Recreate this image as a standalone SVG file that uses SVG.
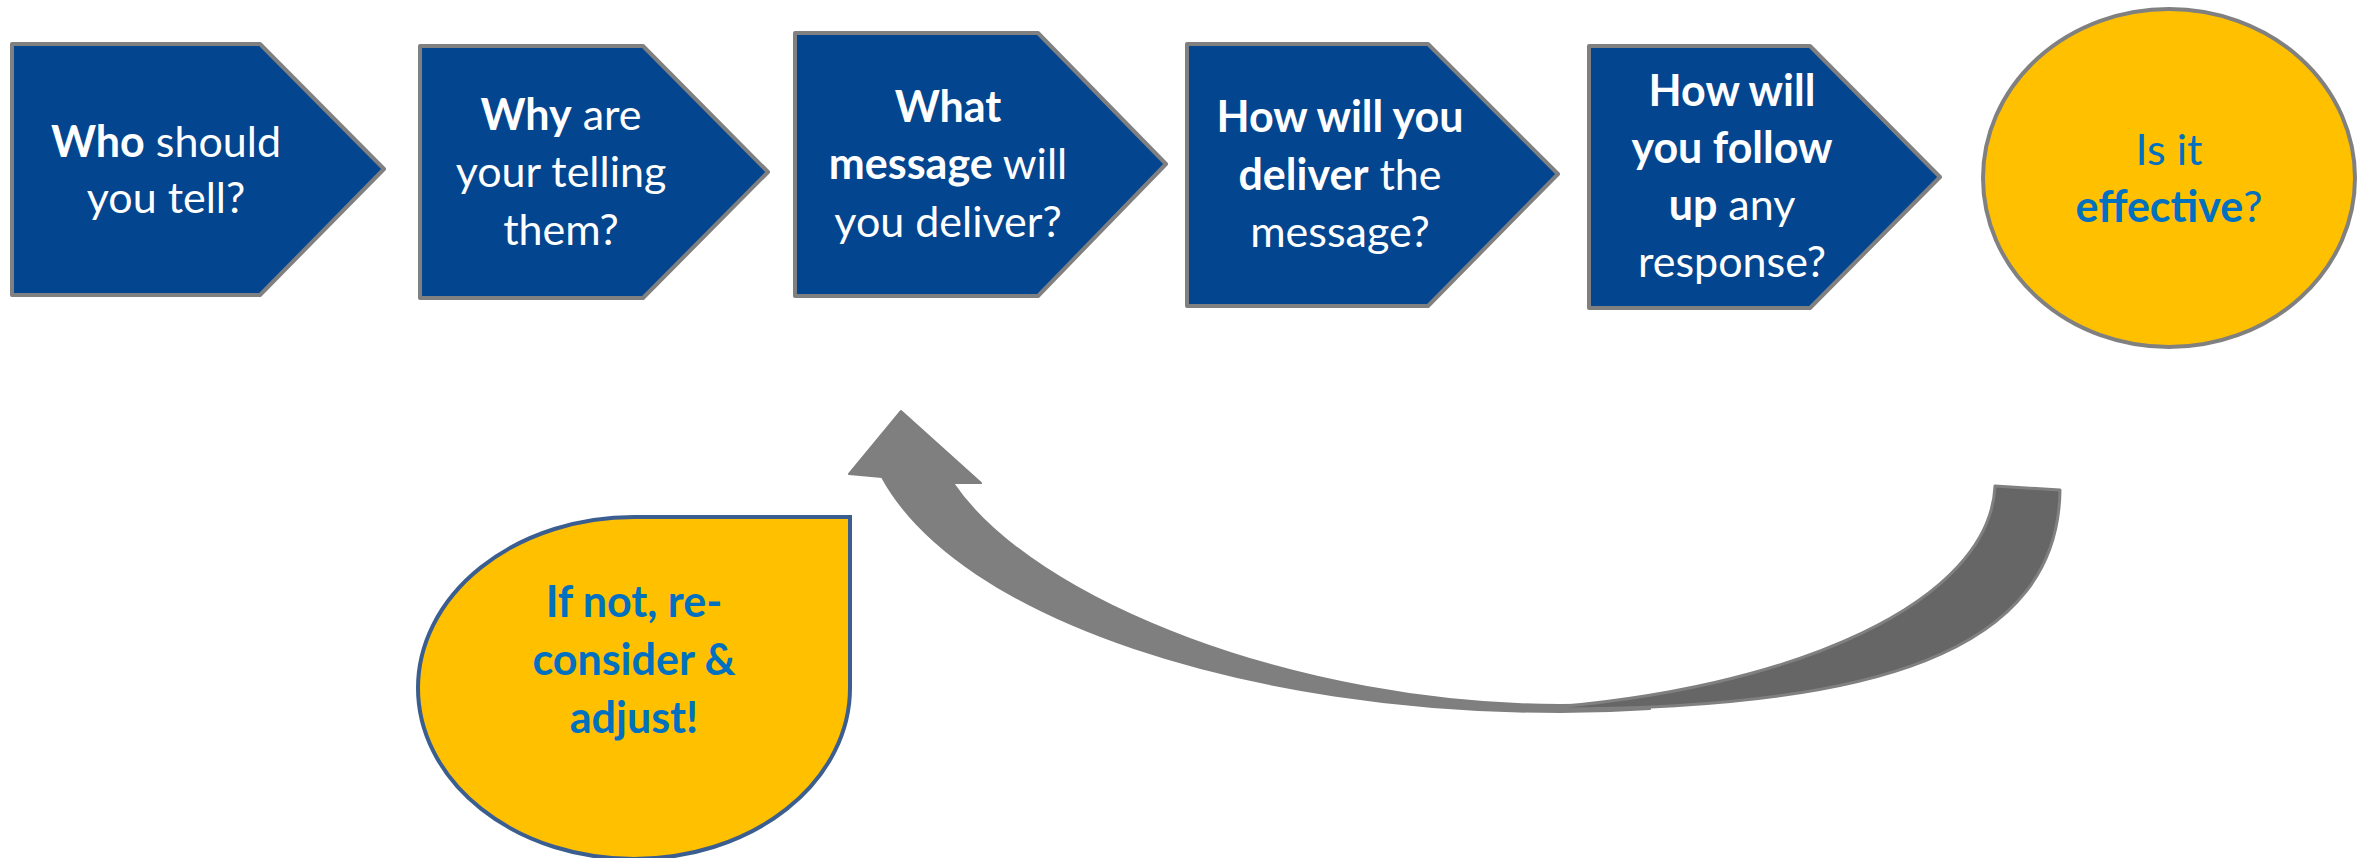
<svg xmlns="http://www.w3.org/2000/svg" width="2366" height="858" viewBox="0 0 2366 858">
<style>
.step{fill:#03458F;stroke:#808080;stroke-width:4;stroke-linejoin:round}
.lbl{font-family:Lato,"Open Sans",sans-serif;font-size:43px;fill:#FFFFFF;text-anchor:middle}
.b{font-weight:bold}
.yl{fill:#FFC000}
.blue{fill:#0070C0}
</style>
<rect width="2366" height="858" fill="#FFFFFF"/>
<g id="connectors">
  <path d="M849,474 L901,411 L981,483 L953,483 C1033,602 1300,705 1560,705 L1650,704 L1650,709 C1620,711 1590,712 1560,712 C1250,712 960,620 882,477 Z" fill="#7F7F7F" stroke="#7F7F7F" stroke-width="2" stroke-linejoin="round"/>
  <path d="M1995,486 L2060,490 C2058,650 1880,712 1530,709 C1800,690 1990,600 1995,486 Z" fill="#666666" stroke="#808080" stroke-width="3" stroke-linejoin="round"/>
</g>
<g id="n1">
  <polygon class="step" points="12,44 260,44 384,169 260,295 12,295"/>
  <text class="lbl"><tspan x="166" y="157"><tspan class="b">Who</tspan> should</tspan><tspan x="166" y="213">you tell?</tspan></text>
</g>
<g id="n2">
  <polygon class="step" points="420,46 643,46 768,172 643,298 420,298"/>
  <text class="lbl"><tspan x="561" y="130"><tspan class="b">Why</tspan> are</tspan><tspan x="561" y="187">your telling</tspan><tspan x="561" y="245">them?</tspan></text>
</g>
<g id="n3">
  <polygon class="step" points="795,33 1038,33 1166,164 1038,296 795,296"/>
  <text class="lbl"><tspan x="948" y="122" class="b">What</tspan><tspan x="948" y="179"><tspan class="b">message</tspan> will</tspan><tspan x="948" y="237">you deliver?</tspan></text>
</g>
<g id="n4">
  <polygon class="step" points="1187,44 1428,44 1558,174 1428,306 1187,306"/>
  <text class="lbl"><tspan x="1340" y="132" class="b">How will you</tspan><tspan x="1340" y="190"><tspan class="b">deliver</tspan> the</tspan><tspan x="1340" y="247">message?</tspan></text>
</g>
<g id="n5">
  <polygon class="step" points="1589,46 1810,46 1940,177 1810,308 1589,308"/>
  <text class="lbl"><tspan x="1732" y="106" class="b">How will</tspan><tspan x="1732" y="163" class="b">you follow</tspan><tspan x="1732" y="220"><tspan class="b">up</tspan> any</tspan><tspan x="1732" y="277">response?</tspan></text>
</g>
<g id="n6">
  <ellipse cx="2169" cy="178" rx="186" ry="169" class="yl" stroke="#808080" stroke-width="4"/>
  <text class="lbl blue"><tspan x="2169" y="165">Is it</tspan><tspan x="2169" y="222"><tspan class="b">effective</tspan>?</tspan></text>
</g>
<g id="n7">
  <path d="M418,688 A216,171 0 0 1 634,517 L850,517 L850,688 A216,171 0 0 1 634,859 A216,171 0 0 1 418,688 Z" class="yl" stroke="#3B5E91" stroke-width="4"/>
  <text class="lbl blue b"><tspan x="634" y="617">If not, re-</tspan><tspan x="634" y="675">consider &amp;</tspan><tspan x="634" y="733">adjust!</tspan></text>
</g>
</svg>
